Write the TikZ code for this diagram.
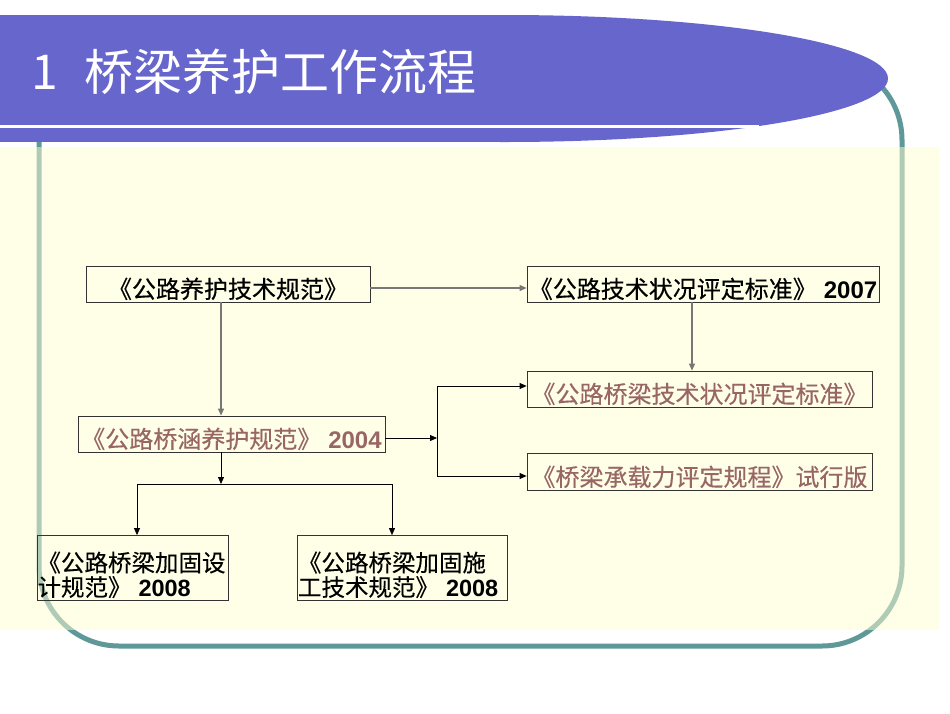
\documentclass[tikz,border=0pt]{standalone}
\usepackage{fontspec}
\usetikzlibrary{arrows.meta}
\newfontfamily\cjk{Noto Sans CJK SC}
\newfontfamily\cjkb{Noto Sans CJK SC}[FakeBold=0.3]
\newfontfamily\lib{Liberation Sans}
\definecolor{titleblue}{HTML}{6666CC}
\definecolor{frameteal}{HTML}{5F9898}
\definecolor{paleyellow}{RGB}{255,255,210}
\definecolor{mauve}{HTML}{996666}
\definecolor{linegray}{HTML}{777777}
\definecolor{boxline}{HTML}{333333}
\tikzset{
  docbox/.style={draw=boxline, line width=0.8pt, inner sep=0pt, minimum height=36pt,
    text height=32pt, text depth=4pt, font=\cjkb\fontsize{24}{26}\selectfont},
  twobox/.style={draw=boxline, line width=0.8pt, inner xsep=0.5pt, inner ysep=0pt, minimum height=65pt,
    text height=36pt, text depth=29pt, align=left, font=\cjkb\fontsize{23.5}{24.5}\selectfont},
  grayarrow/.style={draw=linegray, line width=1.1pt, -{Triangle[length=7pt,width=6pt]}},
  blackarrow/.style={draw=black, line width=0.8pt, -{Triangle[length=7pt,width=6pt]}},
  blackline/.style={draw=black, line width=0.8pt},
}
\newcommand{\yr}[1]{\hspace{7pt}{\lib\bfseries #1}}
\begin{document}
\begin{tikzpicture}[x=1pt,y=-1pt]
\useasboundingbox (0,0) rectangle (950,713);
\fill[white] (0,0) rectangle (950,713);
% frame
\draw[frameteal, line width=5pt, rounded corners=80pt] (39,60) rectangle (902,646);
% yellow overlay
\fill[paleyellow, opacity=0.5] (0,147) rectangle (939,630);
% title band
\fill[titleblue] (0,15) rectangle (507,142);
\fill[titleblue] (505,78.5) ellipse [x radius=383pt, y radius=63.5pt];
\fill[white] (0,124.5) rectangle (759,128);
\node[text=white, font=\cjk\fontsize{48}{50}\selectfont, anchor=west, inner sep=0pt] (tnum) at (31,72) {1};
\node[text=white, font=\cjk\fontsize{49}{52}\selectfont, anchor=west, inner sep=0pt] (ttl) at (84,72) {桥梁养护工作流程};
% boxes
\node[docbox, minimum width=284pt] (A) at (228,284) {《公路养护技术规范》\hspace{12pt}};
\node[docbox, minimum width=307pt, text=mauve] (B) at (231.5,434) {《公路桥涵养护规范》\yr{2004}};
\node[docbox, minimum width=352pt] (E) at (703,284) {《公路技术状况评定标准》\yr{2007}};
\node[docbox, minimum width=345pt, text=mauve] (F) at (699.5,389) {《公路桥梁技术状况评定标准》};
\node[docbox, minimum width=345pt, minimum height=37pt, text height=33pt, text=mauve] (G) at (699.5,471.5) {《桥梁承载力评定规程》试行版};
\node[twobox, text width=190pt] (C) at (132.5,568) {《公路桥梁加固设\\计规范》\yr{2008}};
\node[twobox, text width=209pt] (D) at (402.5,568) {《公路桥梁加固施\\工技术规范》\yr{2008}};
% helper coordinates
\coordinate (xa) at (221,0);
\coordinate (ya) at (0,288);
\coordinate (xe) at (692,0);
\coordinate (jdown) at (221,484);
\coordinate (jl) at (137,484);
\coordinate (jr) at (392,484);
\coordinate (jm) at (437,438);
\coordinate (jt) at (437,386);
\coordinate (jb) at (437,476);
% connectors
\draw[grayarrow] (A.south -| xa) -- (B.north -| xa);
\draw[grayarrow] (A.east |- ya) -- (E.west |- ya);
\draw[grayarrow] (E.south -| xe) -- (F.north -| xe);
\draw[blackarrow] (B.south -| xa) -- (jdown);
\draw[blackline] (jl) -- (jr);
\draw[blackarrow] (jl) -- (C.north -| jl);
\draw[blackarrow] (jr) -- (D.north -| jr);
\draw[blackarrow] (B.east |- jm) -- (jm);
\draw[blackline] (jt) -- (jb);
\draw[blackarrow] (jt) -- (F.west |- jt);
\draw[blackarrow] (jb) -- (G.west |- jb);
\end{tikzpicture}
\end{document}
